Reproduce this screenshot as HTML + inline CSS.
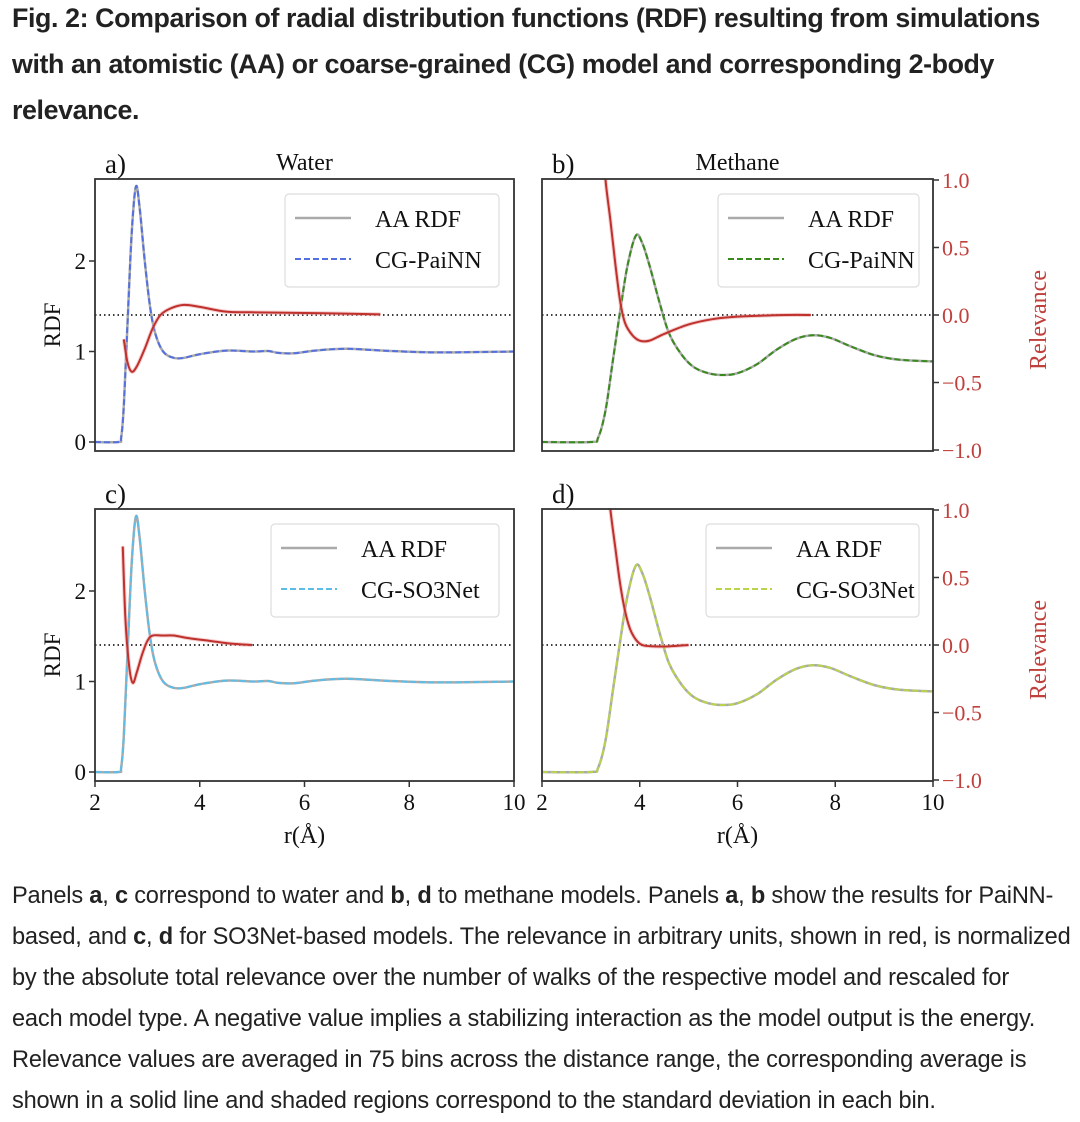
<!DOCTYPE html>
<html><head><meta charset="utf-8">
<style>
body{margin:0;background:#fff;width:1080px;height:1122px;overflow:hidden;position:relative;font-family:"Liberation Sans",sans-serif;color:#222}
.t{position:absolute;left:12px;font-weight:bold;font-size:26.8px;white-space:nowrap;letter-spacing:-0.4px}
.c{position:absolute;left:12px;font-size:23.6px;white-space:nowrap;color:#222;letter-spacing:-0.2px}
svg{position:absolute;left:0;top:0}
</style></head><body>
<div class="t" style="top:3px">Fig. 2: Comparison of radial distribution functions (RDF) resulting from simulations</div>
<div class="t" style="top:49px">with an atomistic (AA) or coarse-grained (CG) model and corresponding 2-body</div>
<div class="t" style="top:95px">relevance.</div>
<svg id="fig" width="1080" height="1122" font-family="Liberation Serif, serif"></svg>
<div class="c" style="top:876px;line-height:41px">Panels <b>a</b>, <b>c</b> correspond to water and <b>b</b>, <b>d</b> to methane models. Panels <b>a</b>, <b>b</b> show the results for PaiNN-<br>based, and <b>c</b>, <b>d</b> for SO3Net-based models. The relevance in arbitrary units, shown in red, is normalized<br>by the absolute total relevance over the number of walks of the respective model and rescaled for<br>each model type. A negative value implies a stabilizing interaction as the model output is the energy.<br>Relevance values are averaged in 75 bins across the distance range, the corresponding average is<br>shown in a solid line and shaded regions correspond to the standard deviation in each bin.</div>
<script>
const waterR=[2,2.45,2.5,2.55,2.62,2.7,2.78,2.85,2.95,3.05,3.15,3.3,3.5,3.7,4,4.5,5,5.3,5.5,5.8,6.2,6.8,7.5,8.5,10];
const waterG=[0,0,0.05,0.4,1.3,2.3,2.82,2.6,2.0,1.5,1.2,1.0,0.93,0.93,0.97,1.01,1.0,1.005,0.985,0.98,1.01,1.03,1.01,0.99,1.0];
const methR=[2,3.0,3.15,3.3,3.45,3.6,3.75,3.92,4.05,4.2,4.4,4.6,4.85,5.1,5.4,5.7,6.0,6.4,6.8,7.2,7.55,7.9,8.3,8.8,9.3,10];
const methG=[0,0,0.05,0.35,0.9,1.45,1.95,2.28,2.2,1.95,1.55,1.2,0.97,0.83,0.76,0.74,0.76,0.86,1.02,1.14,1.18,1.15,1.06,0.96,0.91,0.89];
const relAR=[2.55,2.62,2.7,2.8,2.95,3.1,3.25,3.45,3.7,4,4.5,5,6,7,7.45];
const relAV=[-0.18,-0.35,-0.42,-0.38,-0.25,-0.1,0.0,0.05,0.075,0.06,0.025,0.02,0.015,0.008,0.005];
const relCR=[2.53,2.58,2.65,2.72,2.8,2.9,3.0,3.1,3.3,3.5,3.8,4.2,4.6,5];
const relCV=[0.73,0.2,-0.15,-0.28,-0.2,-0.07,0.03,0.07,0.07,0.07,0.05,0.03,0.01,0.0];
const relBR=[3.25,3.3,3.4,3.5,3.6,3.7,3.85,4.0,4.2,4.5,5,5.5,6,7,7.5];
const relBV=[1.3,1.0,0.7,0.38,0.1,-0.06,-0.15,-0.19,-0.19,-0.14,-0.07,-0.03,-0.012,0,0];
const relDR=[3.35,3.4,3.5,3.6,3.7,3.8,3.9,4.0,4.1,4.3,4.6,5];
const relDV=[1.2,1.0,0.72,0.45,0.25,0.12,0.05,0.01,-0.005,-0.01,-0.01,0];
const xTicks=[2,4,6,8,10];
const yTicks=[0,1,2];
const relTicks=[1.0,0.5,0.0,-0.5,-1.0];

const NS="http://www.w3.org/2000/svg";
const svg=document.getElementById('fig');
function mk(tag,attrs,parent){const e=document.createElementNS(NS,tag);for(const k in attrs)e.setAttribute(k,attrs[k]);(parent||svg).appendChild(e);return e;}
function smooth(pts){let d="M"+pts[0][0]+","+pts[0][1];for(let i=0;i<pts.length-1;i++){const p0=pts[i-1]||pts[i],p1=pts[i],p2=pts[i+1],p3=pts[i+2]||p2;const c1x=p1[0]+(p2[0]-p0[0])/6,c1y=p1[1]+(p2[1]-p0[1])/6,c2x=p2[0]-(p3[0]-p1[0])/6,c2y=p2[1]-(p3[1]-p1[1])/6;d+=`C${c1x},${c1y} ${c2x},${c2y} ${p2[0]},${p2[1]}`;}return d;}

const panels=[
 {id:'a',L:95,R:514,T:179,B:451,xs:waterR,ys:waterG,rr:relAR,rv:relAV,col:'#5470e0',lab:'CG-PaiNN',title:'Water',left:true,right:false,bottom:false,lg:[285,499]},
 {id:'b',L:542,R:933,T:179,B:451,xs:methR,ys:methG,rr:relBR,rv:relBV,col:'#3a8a1e',lab:'CG-PaiNN',title:'Methane',left:false,right:true,bottom:false,lg:[718,919]},
 {id:'c',L:95,R:514,T:509,B:781,xs:waterR,ys:waterG,rr:relCR,rv:relCV,col:'#5bbde8',lab:'CG-SO3Net',title:'',left:true,right:false,bottom:true,lg:[271,499]},
 {id:'d',L:542,R:933,T:509,B:781,xs:methR,ys:methG,rr:relDR,rv:relDV,col:'#b8d44a',lab:'CG-SO3Net',title:'',left:false,right:true,bottom:true,lg:[706,919]}
];
panels.forEach(p=>{
 const g=mk('g',{});
 
 
 const X=r=>p.L+(r-2)*(p.R-p.L)/8;
 const zero=p.B-9;
 const Y=v=>zero-v*90.5;
 const RY=v=>(p.T+p.B)/2-v*135;
 const cp=mk('clipPath',{id:'cl'+p.id},g);
 mk('rect',{x:p.L,y:p.T,width:p.R-p.L,height:p.B-p.T},cp);
 const inner=mk('g',{'clip-path':`url(#cl${p.id})`},g);
 const dz=mk('line',{x1:p.L,x2:p.R,y1:RY(0),y2:RY(0),stroke:'#222','stroke-width':1.8,'stroke-dasharray':'1.5,3'},inner);
 
 
 const pts=p.xs.map((r,i)=>[X(r),Y(p.ys[i])]);
 const aa=mk('path',{d:smooth(pts),fill:'none',stroke:'#aaa','stroke-width':2.5},inner);
 
 
 const cg=mk('path',{d:smooth(pts),fill:'none',stroke:p.col,'stroke-width':2,'stroke-dasharray':'6,3'},inner);
 
 
 const rp=p.rr.map((r,i)=>[X(r),RY(p.rv[i])]);
 const band=mk('path',{d:smooth(rp),fill:'none',stroke:'#e8a0a0','stroke-width':4,opacity:0.5},inner);
 
 
 const rl=mk('path',{d:smooth(rp),fill:'none',stroke:'#c0302c','stroke-width':2},inner);
 
 
 const fr=mk('rect',{x:p.L,y:p.T,width:p.R-p.L,height:p.B-p.T,fill:'none',stroke:'#333','stroke-width':1.8},g);
 
 
 const pl=mk('text',{x:p.L+10,y:p.T-6,'font-size':27,fill:'#111'},g);pl.textContent=p.id+')';
 
 
 if(p.title){const tt=mk('text',{x:(p.L+p.R)/2,y:p.T-9,'font-size':24,'text-anchor':'middle',fill:'#111'},g);tt.textContent=p.title;
  
  }
 if(p.left){
  yTicks.forEach(v=>{mk('line',{x1:p.L-6,x2:p.L,y1:Y(v),y2:Y(v),stroke:'#333','stroke-width':1.5},g);
   const t=mk('text',{x:p.L-9,y:Y(v)+8,'font-size':23,'text-anchor':'end',fill:'#111'},g);t.textContent=v;
   
   });
  const yl=mk('text',{x:0,y:0,'font-size':23,'text-anchor':'middle',fill:'#111',transform:`translate(60,${(p.T+p.B)/2+10}) rotate(-90)`},g);yl.textContent='RDF';
  
  
 }
 if(p.right){
  relTicks.forEach(v=>{mk('line',{x1:p.R,x2:p.R+6,y1:RY(v),y2:RY(v),stroke:'#333','stroke-width':1.5},g);
   const t=mk('text',{x:p.R+9,y:RY(v)+8,'font-size':22,fill:'#c0403c'},g);t.textContent=(v<0?'\u2212':'')+Math.abs(v).toFixed(1);
   
   });
  const rt=mk('text',{x:0,y:0,'font-size':24,'text-anchor':'middle',fill:'#c0403c',transform:`translate(1046,${(p.T+p.B)/2+5}) rotate(-90)`},g);rt.textContent='Relevance';
  
  
 }
 if(p.bottom){
  xTicks.forEach(v=>{mk('line',{x1:X(v),x2:X(v),y1:p.B,y2:p.B+6,stroke:'#333','stroke-width':1.5},g);
   const t=mk('text',{x:X(v),y:p.B+29,'font-size':23,'text-anchor':'middle',fill:'#111'},g);t.textContent=v;
   
   });
  const xt=mk('text',{x:(p.L+p.R)/2,y:p.B+62,'font-size':24,'text-anchor':'middle',fill:'#111'},g);xt.textContent='r(Å)';
  
  
 }
 const lg=mk('g',{},g);
 
 
 const lx=p.lg[0],lw=p.lg[1]-p.lg[0],ly=p.T+15;
 mk('rect',{x:lx,y:ly,width:lw,height:93,rx:4,fill:'#fff',stroke:'#ddd','stroke-width':1.2},lg);
 mk('line',{x1:lx+10,x2:lx+66,y1:ly+24,y2:ly+24,stroke:'#aaa','stroke-width':2.5},lg);
 const t1=mk('text',{x:lx+90,y:ly+33,'font-size':24,fill:'#111'},lg);t1.textContent='AA RDF';
 
 
 mk('line',{x1:lx+10,x2:lx+66,y1:ly+65,y2:ly+65,stroke:p.col,'stroke-width':2,'stroke-dasharray':'6,3'},lg);
 const t2=mk('text',{x:lx+90,y:ly+74,'font-size':24,fill:'#111'},lg);t2.textContent=p.lab;
 
 
});
</script>
</body></html>
